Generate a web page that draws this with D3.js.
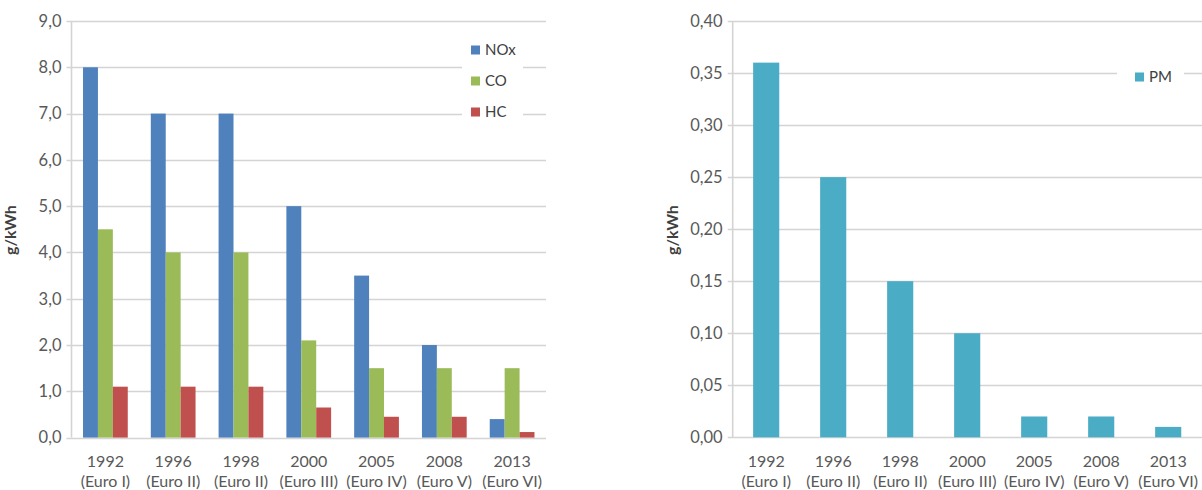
<!DOCTYPE html>
<html><head><meta charset="utf-8">
<script src="https://cdn.jsdelivr.net/npm/d3@7"></script>
<style>
html,body{margin:0;padding:0;background:#fff;}
svg{display:block;font-family:Lato,"Open Sans",sans-serif;}
</style></head><body>
<svg id="c" width="1202" height="490"></svg>
<script>
const categories = ["1992","1996","1998","2000","2005","2008","2013"];
const stages = ["(Euro I)","(Euro II)","(Euro II)","(Euro III)","(Euro IV)","(Euro V)","(Euro VI)"];
const seriesNames = ["NOx","CO","HC"];
const nox = [8.0, 7.0, 7.0, 5.0, 3.5, 2.0, 0.4];
const co  = [4.5, 4.0, 4.0, 2.1, 1.5, 1.5, 1.5];
const hc  = [1.1, 1.1, 1.1, 0.65, 0.45, 0.45, 0.12];
const pm  = [0.36, 0.25, 0.15, 0.10, 0.02, 0.02, 0.01];
const leftTicks = [0,1,2,3,4,5,6,7,8,9];
const leftTickLabels = ["0,0","1,0","2,0","3,0","4,0","5,0","6,0","7,0","8,0","9,0"];
const rightTicks = [0,0.05,0.10,0.15,0.20,0.25,0.30,0.35,0.40];
const rightTickLabels = ["0,00","0,05","0,10","0,15","0,20","0,25","0,30","0,35","0,40"];
const yTitle = "g/kWh";
const colors = {NOx:"#4f81bd", CO:"#9bbb59", HC:"#c0504d", PM:"#4bacc6"};

const svg = d3.select("#c");
const gridColor = "#d4d4d4", textColor = "#595959";

function drawAxes(g, x0, x1, y, ticks, labels, xBand, titleX) {
  g.append("g").selectAll("line").data(ticks).join("line")
    .attr("x1", x0 - 5).attr("x2", x1)
    .attr("y1", d => Math.round(y(d)) + 0.5).attr("y2", d => Math.round(y(d)) + 0.5)
    .attr("stroke", gridColor).attr("stroke-width", 1.6);
  g.append("line").attr("x1", x0).attr("x2", x0)
    .attr("y1", y(ticks[ticks.length-1])).attr("y2", y(0))
    .attr("stroke", gridColor).attr("stroke-width", 1.6);
  g.append("g").selectAll("text").data(ticks).join("text")
    .attr("x", x0 - 10).attr("y", d => y(d)).attr("dy", "0.35em")
    .attr("text-anchor", "end").attr("font-size", 16.5).attr("fill", textColor)
    .text((d,i) => labels[i]);
  const cat = g.append("g").selectAll("text").data(categories).join("text")
    .attr("text-anchor", "middle").attr("font-size", 16).attr("fill", textColor)
    .attr("transform", d => `translate(${xBand(d) + xBand.bandwidth()/2},0)`);
  cat.append("tspan").attr("x", 0).attr("y", 467).text(d => d);
  cat.append("tspan").attr("x", 0).attr("y", 487).text((d,i) => stages[i]);
  g.append("text").attr("transform", `translate(${titleX},230) rotate(-90)`)
    .attr("text-anchor", "middle").attr("dy", "0.35em")
    .attr("font-size", 16).attr("font-weight", "bold").attr("fill", "#404040")
    .text(yTitle);
}

// ---------- Left chart ----------
{
  const x0 = 71.5, x1 = 546, yTop = 21, yBot = 437.6;
  const g = svg.append("g");
  const x = d3.scaleBand().domain(categories).range([x0, x1]).paddingInner(0.34).paddingOuter(0.17);
  const y = d3.scaleLinear().domain([0, 9]).range([yBot, yTop]);
  drawAxes(g, x0, x1, y, leftTicks, leftTickLabels, x, 10);
  const xs = d3.scaleBand().domain(seriesNames).range([0, x.bandwidth()]);
  const data = {NOx: nox, CO: co, HC: hc};
  seriesNames.forEach(s => {
    g.append("g").selectAll("rect").data(categories).join("rect")
      .attr("x", d => x(d) + xs(s)).attr("width", xs.bandwidth())
      .attr("y", (d,i) => y(data[s][i])).attr("height", (d,i) => y(0) - y(data[s][i]))
      .attr("fill", colors[s]);
  });
  const lg = g.append("g");
  lg.append("rect").attr("x", 462).attr("y", 30).attr("width", 61).attr("height", 96).attr("fill", "#fff");
  seriesNames.forEach((s, i) => {
    const cy = 50 + i * 31;
    lg.append("rect").attr("x", 471).attr("y", cy - 4.5).attr("width", 9).attr("height", 9).attr("fill", colors[s]);
    lg.append("text").attr("x", 485).attr("y", cy).attr("dy", "0.35em")
      .attr("font-size", 15).attr("fill", "#404040").text(s);
  });
}

// ---------- Right chart ----------
{
  const x0 = 732.7, x1 = 1201.7, yTop = 21, yBot = 437.3;
  const g = svg.append("g");
  const x = d3.scaleBand().domain(categories).range([x0, x1]).paddingInner(0.61).paddingOuter(0.305);
  const y = d3.scaleLinear().domain([0, 0.4]).range([yBot, yTop]);
  drawAxes(g, x0, x1 + 1, y, rightTicks, rightTickLabels, x, 672);
  g.append("g").selectAll("rect").data(categories).join("rect")
    .attr("x", d => x(d)).attr("width", x.bandwidth())
    .attr("y", (d,i) => y(pm[i])).attr("height", (d,i) => y(0) - y(pm[i]))
    .attr("fill", colors.PM);
  const lg = g.append("g");
  lg.append("rect").attr("x", 1117).attr("y", 60).attr("width", 67).attr("height", 30).attr("fill", "#fff");
  lg.append("rect").attr("x", 1135).attr("y", 72.5).attr("width", 9).attr("height", 9).attr("fill", colors.PM);
  lg.append("text").attr("x", 1149).attr("y", 77).attr("dy", "0.35em")
    .attr("font-size", 15).attr("fill", "#404040").text("PM");
}
</script>
</body></html>
